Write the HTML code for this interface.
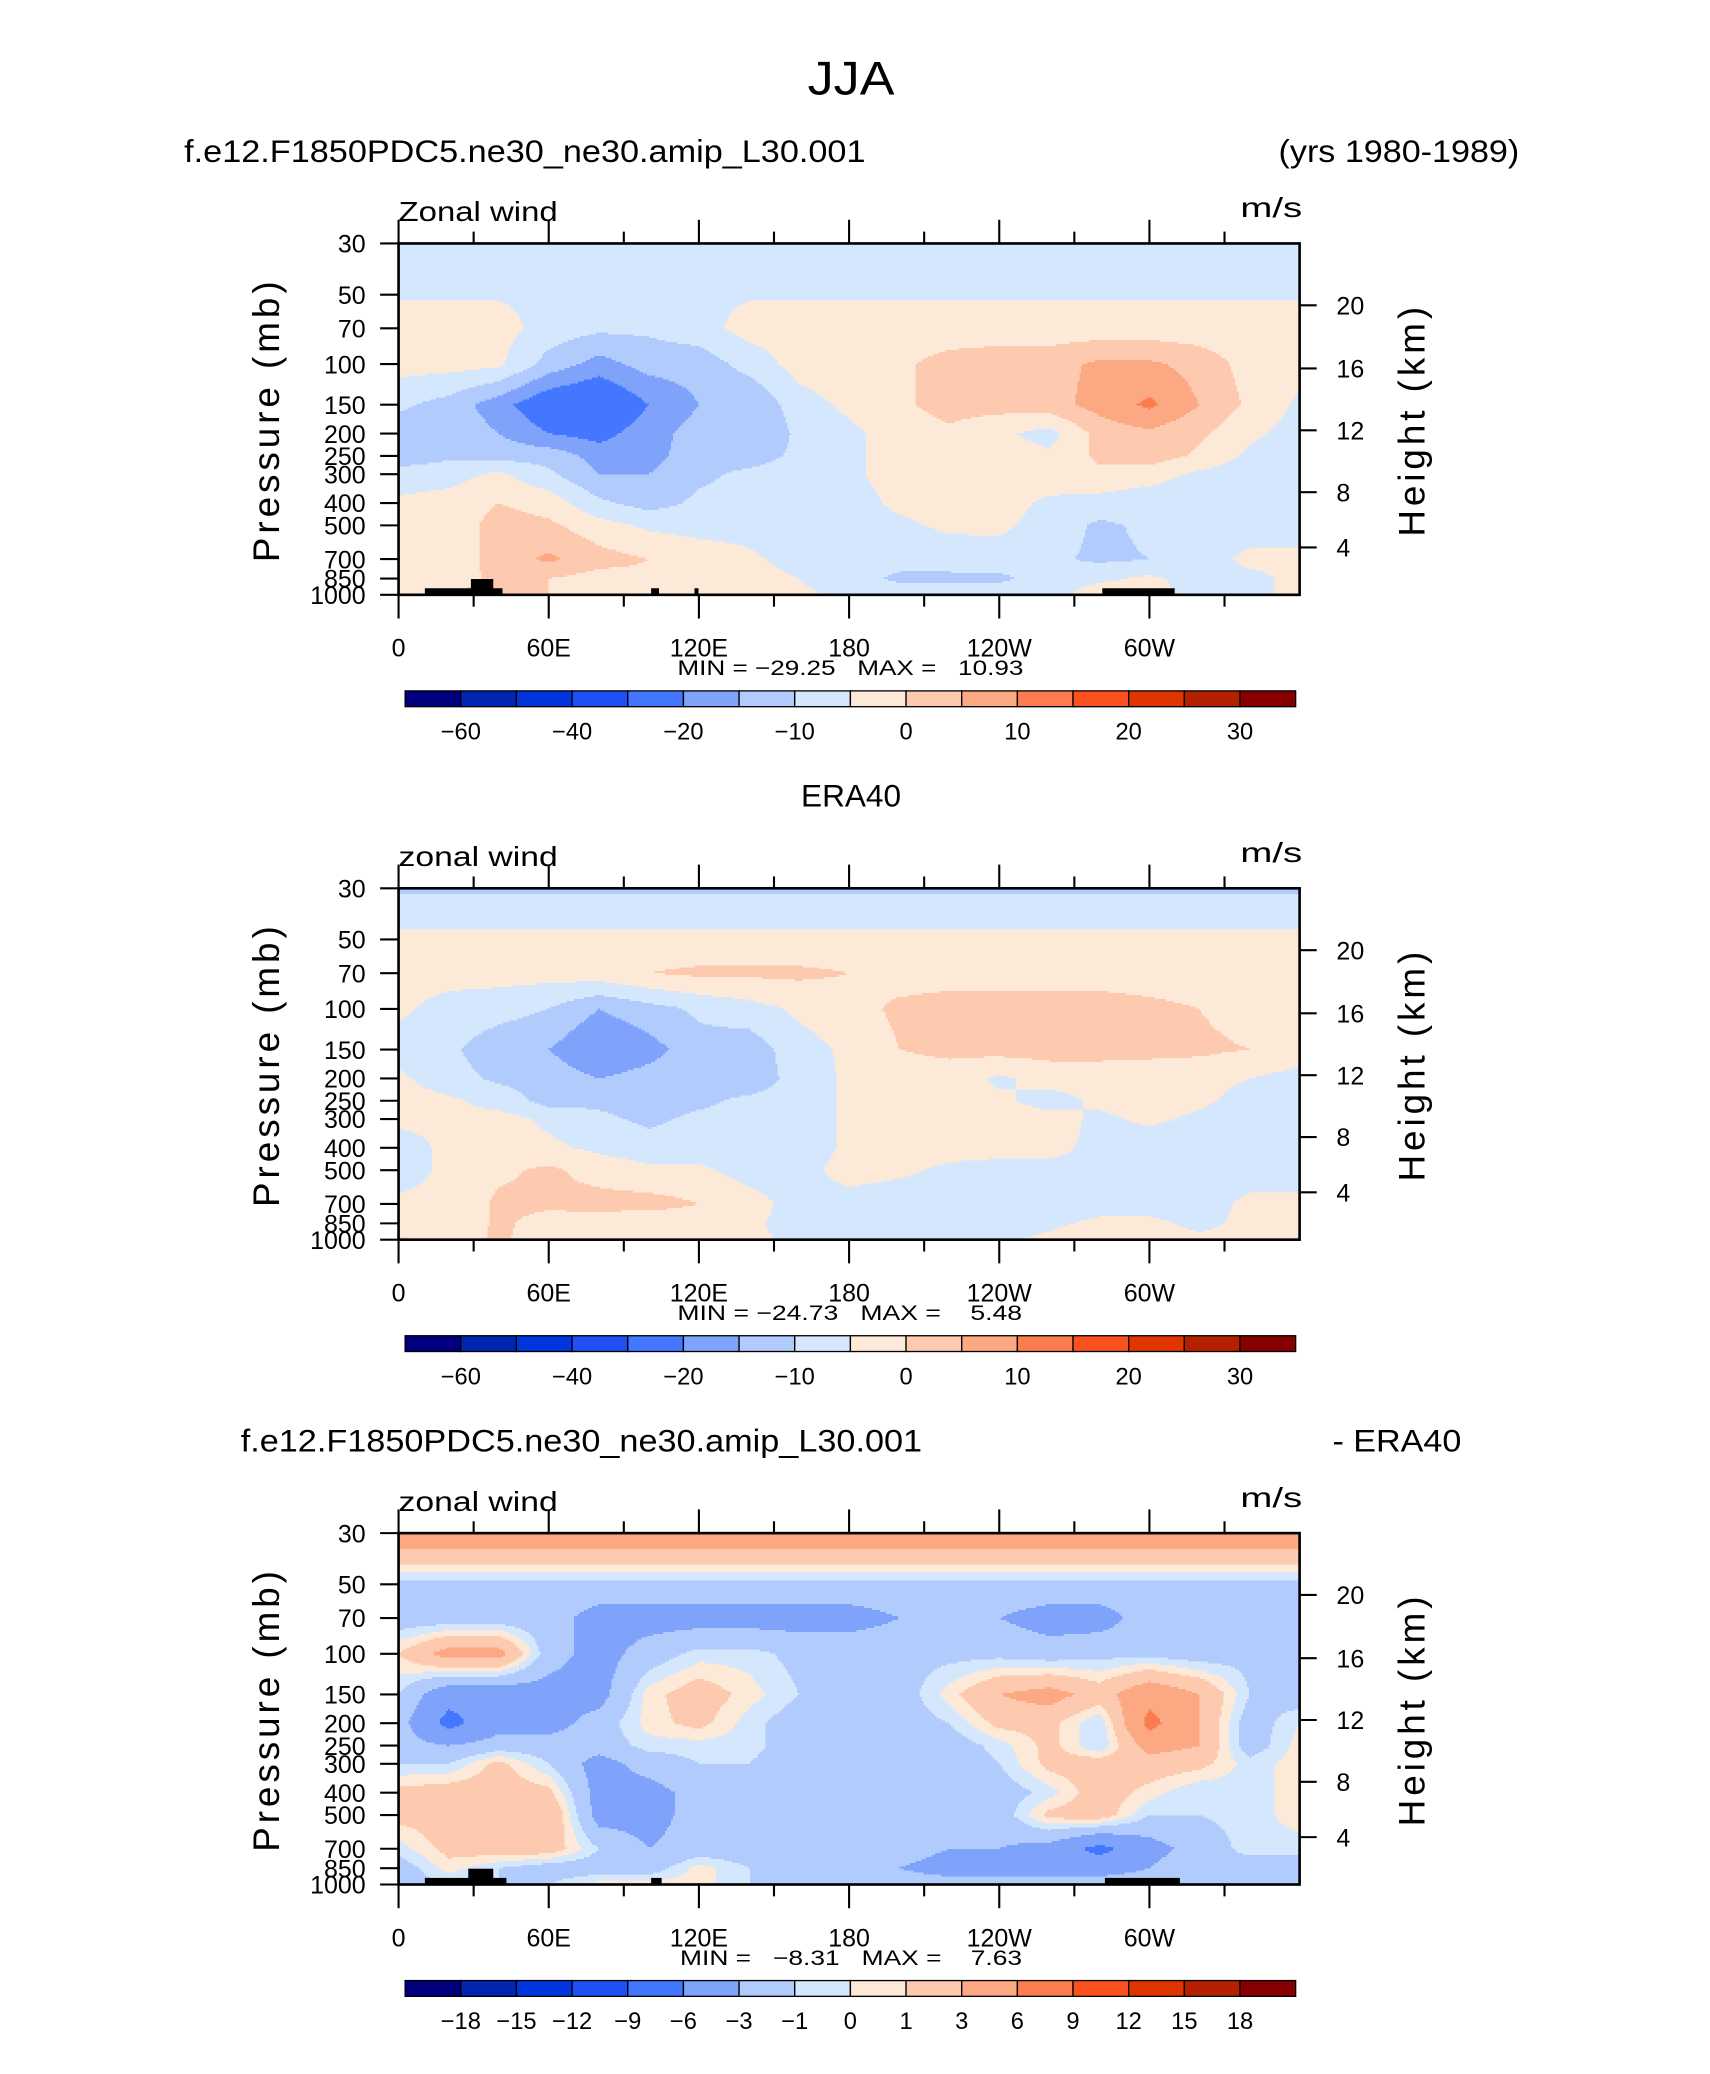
<!DOCTYPE html>
<html><head><meta charset="utf-8"><style>
html,body{margin:0;padding:0;background:#fff;}
svg{display:block;}
text{font-family:"Liberation Sans",sans-serif;fill:#000;}
</style></head><body>
<svg id="fig" xmlns="http://www.w3.org/2000/svg" width="1710" height="2074" viewBox="0 0 1300 1576" preserveAspectRatio="none">
<text x="647" y="72" font-size="36" text-anchor="middle" textLength="66" lengthAdjust="spacingAndGlyphs">JJA</text>
<g id="root"></g>
</svg>
<script>
// ---- data ----
const lons = [0,20,40,60,80,100,120,140,160,180,200,220,240,260,280,300,320,340,360];
const levels = [30,50,70,100,150,200,250,300,400,500,700,850,1000];
const xTickLabels = ["0","60E","120E","180","120W","60W"];
const pTickLabels = [30,50,70,100,150,200,250,300,400,500,700,850,1000];
const zTickLabels = ["20","16","12","8","4"];
const cbLevelsA = [-60,-50,-40,-30,-20,-15,-10,-5,0,5,10,15,20,25,30];
const cbLabelsA = ["-60","","-40","","-20","","-10","","0","","10","","20","","30"];
const cbLevelsB = [-18,-15,-12,-9,-6,-3,-1,0,1,3,6,9,12,15,18];
const cbLabelsB = ["-18","-15","-12","-9","-6","-3","-1","0","1","3","6","9","12","15","18"];
const model = [
[-8,-8,-8,-8,-8,-8,-8,-8,-8,-8,-8,-8,-8,-8,-8,-8,-8,-8,-8],
[-5.5,-5.5,-5.5,-6,-6.5,-7,-6,-5.5,-5.5,-5.5,-5.5,-5.5,-5.5,-5.5,-5.5,-5.5,-5.5,-5.5,-5.5],
[-3,-3,-3,-7,-9,-9,-7,-3,-3,-3,-3,-3,-3,-3,-3,-3,-3,-3,-3],
[-3,-3,-4,-12,-17,-13,-13,-8,-3,-2,-1,2,3,3,6,6,3,-2,-3],
[-9,-12,-18,-25,-27,-20,-15,-15,-7,-4,-1,2,2,3,7,11,5,-1,-6],
[-13,-11,-15,-20,-22,-17,-13,-15,-9,-6,-3,-1,-4,-7,2,4,1,-4,-7],
[-13,-11,-12,-12,-17,-17,-12,-12,-9,-6,-3,-2,-2,-4,1,3,-1,-6,-8],
[-8,-7,-4,-9,-15,-15,-11,-9,-8,-6,-3,-2,-2,-2,-1,-3,-6,-8,-8],
[-4,-3,0,-2,-9,-12,-9,-8,-8,-7,-4,-3,-3,-6,-7,-8,-8,-8,-7],
[-3,-3,2,1,-3,-6,-7,-7,-8,-7,-6,-4,-4,-7,-11,-9,-8,-7,-7],
[-3,-3,2,6,2,0,-2,-4,-7,-8,-8,-8,-7,-9,-11,-10,-7,-4,-4],
[-3,-2,1,0,-2,-1,-1,-3,-5,-8,-11,-11,-11,-8,-6,-4,-7,-6,-4],
[-3,1,0,0,-3,-3,-2,-3,-4,-6,-7,-7,-7,-7,-2,-3,-7,-6,-4]];
const era = [
[-11,-11,-11,-11,-11,-11,-11,-11,-11,-11,-11,-11,-11,-11,-11,-11,-11,-11,-11],
[-3.5,-3.5,-3.5,-3.5,-3.5,-3.5,-3.5,-3.5,-3.5,-3.5,-3.5,-3.5,-3.5,-3.5,-3.5,-3.5,-3.5,-3.5,-3.5],
[-3,-3,-3,-3,-2,0,1,1,1,0,-2,-2,-2,-2,-2,-2,-2,-2,-2],
[-4,-7,-8,-10,-15,-12,-9,-7,-4,-2,1,2,2,2,2,1,0,-2,-3],
[-7,-9,-13,-15,-20,-17,-12,-13,-7,-4,0,1,2,2,2,1,1,0,-2],
[-4,-8,-11,-12,-15,-13,-11,-13,-8,-4,-2,-2,-6,-3,-3,-2,-3,-5,-7],
[-3,-4,-7,-12,-11,-12,-11,-9,-8,-4,-3,-3,-4,-7,-4,-3,-4,-7,-8],
[-4,-4,-3,-6,-9,-11,-9,-8,-8,-4,-3,-3,-3,-3,-6,-4,-6,-8,-8],
[-7,-4,-3,-4,-6,-8,-8,-8,-8,-4,-3,-3,-3,-4,-6,-8,-8,-8,-8],
[-7,-4,-1,1,-2,-4,-4,-7,-7,-3,-4,-6,-7,-6,-6,-7,-7,-7,-7],
[-4,-4,1,1,2,2,0,-3,-7,-7,-8,-7,-7,-7,-7,-7,-7,-4,-4],
[-4,-4,1,-2,-3,-4,-3,-4,-7,-8,-7,-7,-7,-6,-4,-4,-6,-4,-4],
[1,-3,1,-3,-4,-4,-4,-4,-6,-7,-7,-7,-6,-4,0,-4,-4,-4,-4]];
const diff = [
[5,5,5,5,5,5,5,5,5,5,5,5,5,5,5,5,5,5,5],
[-1.5,-1.5,-1.5,-1.5,-1.5,-1.5,-1.5,-1.5,-1.5,-1.5,-1.5,-1.5,-1.5,-1.5,-1.5,-1.5,-1.5,-1.5,-1.5],
[-2,-2,-2,-2,-4,-4,-4,-4,-4,-4,-3,-2,-3,-4,-4,-2,-2,-2,-3],
[1,4,4,-2,-4,-2,-0.5,-0.5,-1.5,-1.5,-1.5,-1.5,-1.5,-2,-1.5,-1.5,-2,-1.5,-1.5],
[-1,-5,-5,-4,-4,0.5,2,0.5,-1,-2,-2,0.5,3,4,2,5,3,-1,-2],
[-2,-7,-4,-4,-2,0.5,1.5,-0.5,-2,-2,-2,-1,1.5,1.5,-1,7,3,-2,0],
[-2,-3,-2,-2,-2,-0.5,-0.5,-0.5,-2,-2,-2,-2,-0.5,1.5,-1,4,3,-2,0.5],
[-1,-1,1.5,-1,-4,-2,-1,-1,-2,-2,-2,-2,-1,1.5,2,2,1.5,-0.5,0.5],
[1.5,2,2,1.5,-4,-4,-2,-2,-2,-2,-2,-2,-2,-0.5,2,0.5,-1,-0.5,0.5],
[1.5,2,3,3,-4,-4,-2,-2,-2,-2,-2,-2,-2,1.5,2,-1,-1,-0.5,0.5],
[-0.5,1.5,2,2,-1,-3,-2,-2,-2,-2,-2,-3,-3,-4,-7,-4,-2,-0.5,-0.5],
[-2,0.5,-1,-2,-2,-2,0.5,-1,-2,-2,-3,-4,-4,-4,-4,-3,-1,-2,-2],
[-2,-1,-1,-1,0.5,0.5,0.5,-1,-1,-1,-2,-2,-2,-2,-2,-2,-2,-2,-2]];
const colors = ["#00007f","#0025b0","#0036dc","#1f4ff5","#4477ff","#7fa3fb","#b1cbfc","#d5e7fd","#fde9d8","#fdcab0","#fca883","#fb7d4f","#fb511f","#e03500","#b52100","#870000"];

const NS="http://www.w3.org/2000/svg";
const root=document.getElementById('root');
function el(tag,attrs,parent,txt){const e=document.createElementNS(NS,tag);for(const k in attrs)e.setAttribute(k,attrs[k]);if(txt!==undefined)e.textContent=txt;(parent||root).appendChild(e);return e;}
const PL=303,PR=988,PH=267;
const lnTop=Math.log(1000/30);
function xOf(lon){return PL+(lon/360)*(PR-PL);}
function yOf(p,bot){return bot-Math.log(1000/p)/lnTop*PH;}
function lonOf(x){return (x-PL)/(PR-PL)*360;}
function pOf(y,bot){return 1000*Math.exp(-(bot-y)/PH*lnTop);}
function sample(grid,lon,p){
  let i=Math.min(lons.length-2,Math.max(0,Math.floor(lon/20)));
  let fx=(lon-lons[i])/20;
  const lp=Math.log(p);
  let j=0;while(j<levels.length-2&&Math.log(levels[j+1])<lp)j++;
  let fy=(lp-Math.log(levels[j]))/(Math.log(levels[j+1])-Math.log(levels[j]));
  fx=Math.max(0,Math.min(1,fx));fy=Math.max(0,Math.min(1,fy));
  const a=grid[j][i],b=grid[j][i+1],c=grid[j+1][i],d=grid[j+1][i+1];
  return (a*(1-fx)+b*fx)*(1-fy)+(c*(1-fx)+d*fx)*fy;
}
function colorIdx(v,lv){let k=0;while(k<lv.length&&v>=lv[k])k++;return k;}
function txt(parent,attrs,s,name){const t=el('text',attrs,parent,s);return t;}

function panel(grid,top,lv,cbLabels,leftTitle,rightTitle,centerTitle,varName,minmax,topo,name){
  const g=el('g',{});
  
  
  const bot=top+PH;
  if(leftTitle)txt(g,{x:leftTitle[0],y:top-62,'font-size':24,textLength:leftTitle[2],lengthAdjust:'spacingAndGlyphs'},leftTitle[1],'panel-title');
  if(rightTitle)txt(g,{x:rightTitle[0]-rightTitle[2],y:top-62,'font-size':24,textLength:rightTitle[2],lengthAdjust:'spacingAndGlyphs'},rightTitle[1],'panel-subtitle');
  if(centerTitle)txt(g,{x:647,y:top-62,'font-size':24,'text-anchor':'middle'},centerTitle,'panel-title');
  txt(g,{x:303,y:top-17,'font-size':21,textLength:121,lengthAdjust:'spacingAndGlyphs'},varName,'variable-label');
  txt(g,{x:943,y:top-20,'font-size':21,textLength:47,lengthAdjust:'spacingAndGlyphs'},'m/s','units-label');
  const fill=el('g',{'shape-rendering':'crispEdges'},g);
  
  const step=1.5;
  function emit(x0,x1,y,c){const r=el('rect',{x:x0,y:y,width:x1-x0+0.5,height:step+0.5,fill:colors[c]},fill);}
  for(let y=top;y<bot;y+=step){
    const p=pOf(Math.min(bot,y+step/2),bot);
    let runStart=PL,runC=-1;
    for(let x=PL;x<PR;x+=step){
      const c=colorIdx(sample(grid,lonOf(x+step/2),p),lv);
      if(c!==runC){
        if(runC>=0)emit(runStart,x,y,runC);
        runStart=x;runC=c;
      }
    }
    if(runC>=0)emit(runStart,PR,y,runC);
  }
  topo.forEach(b=>{const r=el('rect',{x:b[0],y:bot-b[1],width:b[2],height:b[1],fill:'#000'},g);});
  const fr=el('rect',{x:PL,y:top,width:PR-PL,height:PH,fill:'none',stroke:'#000','stroke-width':2},g);
  
  for(let k=0;k<12;k++){
    const x=xOf(k*30),len=k%2===0?18:9;
    el('line',{x1:x,y1:top,x2:x,y2:top-len,stroke:'#000','stroke-width':1.6},g);
    el('line',{x1:x,y1:bot,x2:x,y2:bot+len,stroke:'#000','stroke-width':1.6},g);
  }
  xTickLabels.forEach((s,k)=>txt(g,{x:xOf(k*60),y:bot+47,'font-size':19,'text-anchor':'middle'},s,'x-tick-label'));
  pTickLabels.forEach(p=>{const y=yOf(p,bot);el('line',{x1:PL,y1:y,x2:PL-14,y2:y,stroke:'#000','stroke-width':1.6},g);
    txt(g,{x:278,y:y+7,'font-size':19,'text-anchor':'end'},String(p),'pressure-tick-label');});
  const zOff=[47,95,142,189,231];
  zTickLabels.forEach((s,k)=>{const y=top+zOff[k];el('line',{x1:PR,y1:y,x2:PR+13,y2:y,stroke:'#000','stroke-width':1.6},g);
    txt(g,{x:1016,y:y+7,'font-size':19},s,'height-tick-label');});
  txt(g,{x:0,y:0,'font-size':28,'text-anchor':'middle','letter-spacing':'3',transform:`translate(212,${top+134}) rotate(-90)`},'Pressure  (mb)','y-axis-title');
  txt(g,{x:0,y:0,'font-size':28,'text-anchor':'middle','letter-spacing':'3',transform:`translate(1083,${top+134}) rotate(-90)`},'Height  (km)','right-axis-title');
  txt(g,{x:minmax[1],y:bot+61,'font-size':16,textLength:minmax[2],lengthAdjust:'spacingAndGlyphs',style:'white-space:pre'},minmax[0],'min-max-label');
  const cb=el('g',{},g);
  const cx0=308,cw=(985-308)/16,cy=bot+73;
  colors.forEach((c,k)=>{const r=el('rect',{x:cx0+k*cw,y:cy,width:cw,height:12,fill:c,stroke:'#000','stroke-width':1},cb);});
  cbLabels.forEach((s,k)=>{if(!s)return;txt(cb,{x:cx0+(k+1)*cw,y:cy+37,'font-size':18,'text-anchor':'middle'},s.replace('-','\u2212'),'colorbar-label');});
}
const topoA=[[323,5,59],[358,12,17],[495,5,6],[528,5,3],[838,5,55]];
const topoC=[[323,5,62],[356,12,19],[495,5,8],[840,5,57]];
panel(model,185,cbLevelsA,cbLabelsA,[140,'f.e12.F1850PDC5.ne30_ne30.amip_L30.001',518],[1155,'(yrs 1980-1989)',183],null,'Zonal wind',['MIN = \u221229.25   MAX =   10.93',515,263],topoA,'model-panel');
panel(era,675,cbLevelsA,cbLabelsA,null,null,'ERA40','zonal wind',['MIN = \u221224.73   MAX =    5.48',515,262],[],'era40-panel');
panel(diff,1165,cbLevelsB,cbLabelsB,[183,'f.e12.F1850PDC5.ne30_ne30.amip_L30.001',518],[1111,'- ERA40',98],null,'zonal wind',['MIN =   \u22128.31   MAX =    7.63',517,260],topoC,'difference-panel');
</script>
</body></html>
